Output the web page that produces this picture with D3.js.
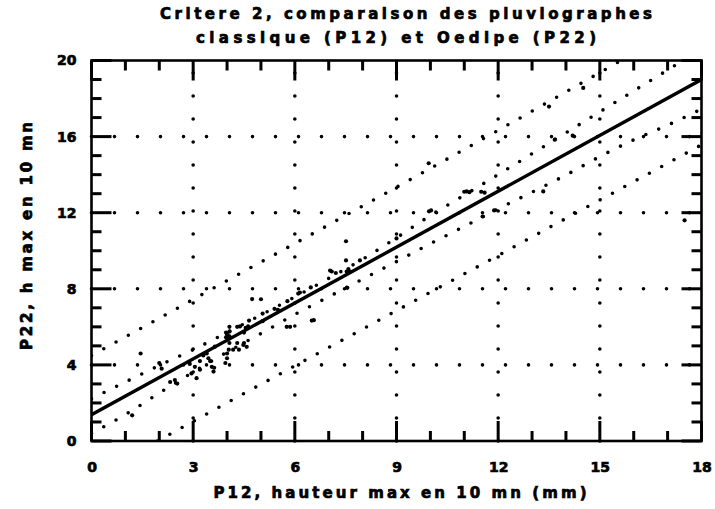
<!DOCTYPE html>
<html>
<head>
<meta charset="utf-8">
<script src="https://cdn.jsdelivr.net/npm/d3@7"></script>
<style>
  html, body { margin: 0; padding: 0; background: #fff; }
  svg { display: block; }
  text { font-family: "DejaVu Sans", sans-serif; font-weight: bold; fill: #000; stroke: #000; stroke-width: 0.7px; }
</style>
</head>
<body>
<svg id="chart" width="715" height="509"></svg>
<script>
// Observed pairs: P12 (classic gauge) vs P22 (Oedipe gauge), max depth in 10 min (mm)
const p12 = [1.20, 1.45, 2.00, 2.07, 2.32, 2.46, 2.53, 2.90, 2.95, 3.05, 3.10, 3.20, 3.20, 3.30, 3.40,
  3.45, 3.50, 3.55, 3.60, 3.62, 3.64, 3.95, 4.00, 4.00, 4.05, 4.18, 4.07, 3.97, 4.07, 4.00,
  3.97, 4.07, 4.07, 4.30, 4.35, 4.50, 4.58, 4.48, 4.30, 4.38, 4.50, 4.55, 4.62, 4.65, 4.74,
  5.00, 5.05, 5.05, 5.40, 5.50, 5.78, 5.76, 5.86, 6.10, 6.15, 6.47, 6.50, 6.56, 7.04, 7.09,
  7.21, 7.51, 7.51, 7.58, 7.53, 7.63, 7.55, 7.92, 9.00, 9.95, 9.96, 10.02, 11.00, 11.07, 11.15,
  11.50, 11.60, 11.54, 11.88, 13.33, 13.50, 13.67, 14.20, 14.51, 17.50];
const p22 = [1.35, 4.60, 4.10, 3.80, 3.10, 3.20, 3.02, 4.05, 3.55, 3.90, 3.30, 4.20, 3.75, 4.50, 4.60,
  4.35, 4.20, 3.90, 3.65, 3.85, 4.96, 4.10, 4.35, 4.60, 4.80, 4.80, 5.15, 5.45, 5.50, 5.60,
  5.70, 5.75, 6.00, 5.15, 4.80, 5.15, 4.95, 5.05, 6.00, 6.02, 5.70, 5.95, 6.02, 6.33, 7.46,
  7.45, 6.70, 6.30, 6.95, 6.90, 7.35, 6.00, 6.00, 7.75, 7.80, 8.07, 6.33, 6.35, 8.96, 8.91,
  8.83, 10.50, 9.49, 9.04, 8.91, 8.91, 8.05, 9.49, 10.65, 14.60, 12.07, 12.12, 13.10, 13.12, 13.08,
  13.10, 13.05, 11.80, 12.12, 13.12, 17.58, 15.84, 16.05, 18.56, 11.60];

// Fitted regression line (end points)
const fitX = [0, 18];
const fitY = [1.38, 19.0];

// Band abscissae and the four dotted band curves
const bandX = [0, 1, 2, 3, 4, 5, 6, 7, 8, 9, 10, 11, 12, 13, 14, 15, 16, 17, 18];
const innerUpper = [2.22, 3.10, 3.97, 4.80, 5.70, 6.62, 7.57, 8.55, 9.55, 10.68, 11.85, 12.92, 14.00, 15.10, 16.20, 17.30, 18.40, 19.50, 20.60];
const innerLower = [0.41, 1.39, 2.52, 3.62, 4.67, 5.65, 6.65, 7.58, 8.51, 9.43, 10.37, 11.28, 12.20, 13.08, 13.98, 14.95, 15.83, 16.60, 17.45];
const outerUpperX = [0, 2, 4, 6, 8, 10, 12, 14, 16];
const outerUpper = [4.50, 6.45, 8.43, 10.38, 12.35, 14.33, 16.33, 18.35, 20.38];
const outerLowerX = [1.95, 4, 6, 8, 10, 12, 14, 16, 18];
const outerLower = [0.00, 2.01, 3.95, 5.88, 7.82, 9.75, 11.70, 13.63, 15.57];

// Axes
const xTicks = [0, 3, 6, 9, 12, 15, 18];
const yTicks = [0, 4, 8, 12, 16, 20];
const xMinor = d3.range(0, 19, 1).filter(v => v % 3 !== 0);
const yMinor = d3.range(0, 21, 1).filter(v => v % 4 !== 0);

const titleLines = ["Critere 2, comparaison des pluviographes", "classique (P12) et Oedipe (P22)"];
const xTitle = "P12, hauteur max en 10 mn (mm)";
const yTitle = "P22, h max en 10 mn";

const svg = d3.select("#chart");
const L = 91.5, R = 701.5, T = 60.5, B = 441;
const x = d3.scaleLinear().domain([0, 18]).range([L, R]);
const y = d3.scaleLinear().domain([0, 20]).range([B, T]);

svg.append("defs").append("clipPath").attr("id", "plotclip")
  .append("rect").attr("x", L).attr("y", T).attr("width", R - L).attr("height", B - T);

// dotted grid at major ticks
const grid = svg.append("g").attr("stroke", "#000").attr("stroke-width", 3.6)
  .attr("stroke-linecap", "round").attr("stroke-dasharray", "0 23");
grid.selectAll("line.v").data(xTicks.filter(v => v > 0 && v < 18)).join("line")
  .attr("x1", d => x(d)).attr("x2", d => x(d)).attr("y1", y(0)).attr("y2", y(20));
grid.selectAll("line.h").data(yTicks.filter(v => v > 0 && v < 20)).join("line")
  .attr("y1", d => y(d)).attr("y2", d => y(d)).attr("x1", x(0)).attr("x2", x(18));

const plot = svg.append("g").attr("clip-path", "url(#plotclip)");

// dotted bands
const curve = d3.line().x(d => x(d[0])).y(d => y(d[1])).curve(d3.curveMonotoneX);
const bands = [
  d3.zip(bandX, innerUpper),
  d3.zip(bandX, innerLower),
  d3.zip(outerUpperX, outerUpper),
  d3.zip(outerLowerX, outerLower)
];
plot.selectAll("path.band").data(bands).join("path")
  .attr("class", "band")
  .attr("d", curve)
  .attr("fill", "none").attr("stroke", "#000").attr("stroke-width", 3.6)
  .attr("stroke-linecap", "round").attr("stroke-dasharray", "0 14");

// regression line
plot.append("path")
  .attr("d", d3.line().x(d => x(d[0])).y(d => y(d[1]))(d3.zip(fitX, fitY)))
  .attr("fill", "none").attr("stroke", "#000").attr("stroke-width", 3.4);

// observations
plot.selectAll("circle.obs").data(d3.zip(p12, p22)).join("circle")
  .attr("class", "obs")
  .attr("cx", d => x(d[0])).attr("cy", d => y(d[1])).attr("r", 2.1).attr("fill", "#000");

// frame
svg.append("rect").attr("x", L).attr("y", T).attr("width", R - L).attr("height", B - T)
  .attr("fill", "none").attr("stroke", "#000").attr("stroke-width", 2.6);

// inward ticks on all four sides (major 20 px, minor 10 px), drawn as filled bars
const tw = 3;
const xt = xTicks.map(v => ({ v: v, len: 20 })).concat(xMinor.map(v => ({ v: v, len: 10 })));
const yt = yTicks.map(v => ({ v: v, len: 20 })).concat(yMinor.map(v => ({ v: v, len: 10 })));
const tickG = svg.append("g").attr("fill", "#000");
tickG.selectAll(".tb").data(xt).join("rect").attr("class", "tb")
  .attr("x", d => x(d.v) - tw / 2).attr("y", d => B - d.len).attr("width", tw).attr("height", d => d.len);
tickG.selectAll(".tt").data(xt).join("rect").attr("class", "tt")
  .attr("x", d => x(d.v) - tw / 2).attr("y", T).attr("width", tw).attr("height", d => d.len);
tickG.selectAll(".tl").data(yt).join("rect").attr("class", "tl")
  .attr("x", L).attr("y", d => y(d.v) - tw / 2).attr("width", d => d.len).attr("height", tw);
tickG.selectAll(".tr").data(yt).join("rect").attr("class", "tr")
  .attr("x", d => R - d.len).attr("y", d => y(d.v) - tw / 2).attr("width", d => d.len).attr("height", tw);

// tick labels
function styleAxis(g) {
  g.select(".domain").remove();
  g.selectAll(".tick line").remove();
  g.selectAll(".tick text").attr("font-size", 14).attr("fill", "#000");
}
svg.append("g").attr("transform", `translate(0,${B})`)
  .call(d3.axisBottom(x).tickValues(xTicks).tickSize(0).tickPadding(21).tickFormat(d3.format("d")))
  .call(styleAxis);
svg.append("g").attr("transform", `translate(${L},0)`)
  .call(d3.axisLeft(y).tickValues(yTicks).tickSize(0).tickPadding(15).tickFormat(d3.format("d")))
  .call(styleAxis);

// titles
svg.append("text").attr("x", 160).attr("y", 19).attr("font-size", 15)
  .attr("textLength", 492).attr("lengthAdjust", "spacing").text(titleLines[0]);
svg.append("text").attr("x", 196).attr("y", 43).attr("font-size", 15)
  .attr("textLength", 400).attr("lengthAdjust", "spacing").text(titleLines[1]);

svg.append("text").attr("x", 400).attr("y", 498).attr("font-size", 15)
  .attr("text-anchor", "middle").attr("textLength", 373).attr("lengthAdjust", "spacing")
  .text(xTitle);

svg.append("text").attr("transform", "translate(32,236) rotate(-90)").attr("font-size", 15)
  .attr("text-anchor", "middle").attr("textLength", 228).attr("lengthAdjust", "spacing")
  .text(yTitle);
</script>
</body>
</html>
